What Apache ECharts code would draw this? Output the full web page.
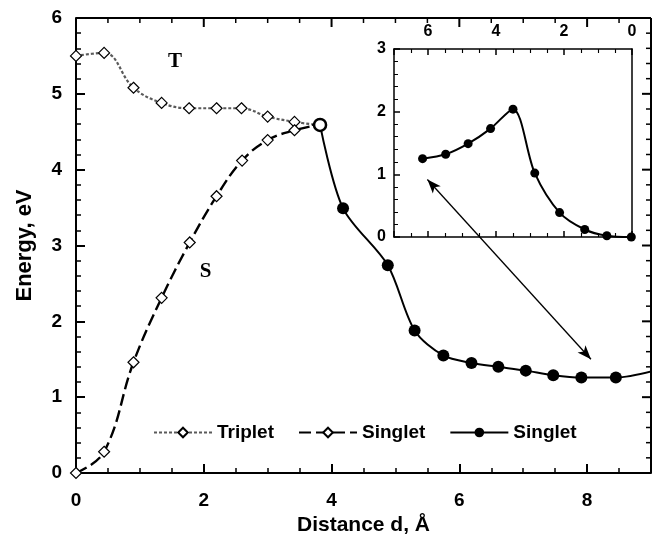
<!DOCTYPE html>
<html>
<head>
<meta charset="utf-8">
<script src="https://cdn.jsdelivr.net/npm/echarts@6/dist/echarts.min.js"></script>
<style>
html,body{margin:0;padding:0;background:#fff;}
#chart{width:654px;height:534px;}
</style>
</head>
<body>
<div id="chart"></div>
<script>
// Main plot data (distance d in Å, energy in eV)
const tripletX = [0, 0.44, 0.90, 1.34, 1.77, 2.20, 2.59, 3.00, 3.42, 3.79];
const tripletY = [5.50, 5.54, 5.08, 4.88, 4.81, 4.81, 4.81, 4.70, 4.63, 4.59];

const singletDashX = [0, 0.44, 0.90, 1.34, 1.78, 2.20, 2.60, 3.00, 3.42, 3.79];
const singletDashY = [0, 0.28, 1.46, 2.31, 3.04, 3.65, 4.12, 4.39, 4.52, 4.59];

const singletSolidX = [3.82, 4.18, 4.88, 5.30, 5.75, 6.19, 6.61, 7.04, 7.47, 7.91, 8.45, 9.05];
const singletSolidY = [4.59, 3.49, 2.74, 1.88, 1.55, 1.45, 1.40, 1.35, 1.29, 1.26, 1.26, 1.35];

// Inset data
const insetX = [6.16, 5.48, 4.82, 4.16, 3.50, 2.86, 2.13, 1.39, 0.74, 0.02];
const insetY = [1.25, 1.32, 1.49, 1.73, 2.04, 1.02, 0.39, 0.12, 0.02, 0.0];

// Tick labels
const mainXTicks = [0, 2, 4, 6, 8];
const mainYTicks = [0, 1, 2, 3, 4, 5, 6];
const insetXTicks = [0, 2, 4, 6];
const insetYTicks = [0, 1, 2, 3];

// Annotations
const arrowFrom = [5.50, 3.87];
const arrowTo = [8.06, 1.50];
const labelT = [1.55, 5.42];
const labelS = [2.03, 2.65];

const zip = (xs, ys) => xs.map((x, i) => [x, ys[i]]);

const FONT = '"Liberation Sans", Arial, sans-serif';
const tickFmt = (list) => (v) => list.indexOf(v) >= 0 ? String(v) : '';

function makeAxis(o) {
  const w = o.lw;
  const ax = {
    type: 'value', min: o.min, max: o.max, interval: o.interval,
    position: o.position,
    axisLine: { show: true, onZero: false, lineStyle: { color: '#000', width: w } },
    axisTick: { show: o.ticks !== false, inside: true, length: o.tl, lineStyle: { color: '#000', width: w } },
    minorTick: { show: o.ticks !== false, splitNumber: o.minor, length: o.mtl, lineStyle: { color: '#000', width: w * 0.75 } },
    splitLine: { show: false },
    axisLabel: o.labels
      ? { show: true, margin: o.margin, fontFamily: FONT, fontSize: o.fs, fontWeight: 'bold', color: '#000', formatter: tickFmt(o.labels) }
      : { show: false }
  };
  if (o.grid) ax.gridIndex = o.grid;
  if (o.inverse) ax.inverse = true;
  return ax;
}

const chart = echarts.init(document.getElementById('chart'), null, { renderer: 'canvas' });

const xMainBottom = makeAxis({ grid: 0, min: 0, max: 9, interval: 2, position: 'bottom', lw: 2, tl: 9, mtl: 5, minor: 4, labels: mainXTicks, margin: 18, fs: 19 });
xMainBottom.name = 'Distance d, Å';
xMainBottom.nameLocation = 'middle';
xMainBottom.nameGap = 42;
xMainBottom.nameTextStyle = { fontFamily: FONT, fontSize: 21, fontWeight: 'bold', color: '#000' };

const yMainLeft = makeAxis({ grid: 0, min: 0, max: 6, interval: 1, position: 'left', lw: 2, tl: 9, mtl: 5, minor: 5, labels: mainYTicks, margin: 14, fs: 19 });
yMainLeft.name = 'Energy, eV';
yMainLeft.nameLocation = 'middle';
yMainLeft.nameGap = 40;
yMainLeft.nameTextStyle = { fontFamily: FONT, fontSize: 22, fontWeight: 'bold', color: '#000' };

const option = {
  animation: false,
  backgroundColor: '#fff',
  textStyle: { fontFamily: FONT },
  grid: [
    { left: 76, top: 18, right: 3, bottom: 61, outerBoundsMode: 'none', containLabel: false },
    { left: 394, top: 49, width: 238, height: 188, outerBoundsMode: 'none', containLabel: false }
  ],
  legend: {
    left: 148, top: 418,
    itemWidth: 58, itemHeight: 12, itemGap: 24,
    textStyle: { fontFamily: FONT, fontSize: 19, fontWeight: 'bold', color: '#000' },
    formatter: (name) => name.replace(' (dashed)', ''),
    data: ['Triplet', 'Singlet (dashed)', 'Singlet']
  },
  xAxis: [
    xMainBottom,
    makeAxis({ grid: 1, min: 0, max: 7, interval: 2, inverse: true, position: 'top', lw: 1.5, tl: 6, mtl: 4, minor: 4, labels: insetXTicks, margin: 9, fs: 16 }),
    makeAxis({ grid: 1, min: 0, max: 7, interval: 2, inverse: true, position: 'bottom', lw: 1.5, tl: 6, mtl: 4, minor: 4 })
  ],
  yAxis: [
    yMainLeft,
    makeAxis({ grid: 1, min: 0, max: 3, interval: 1, position: 'left', lw: 1.5, tl: 6, mtl: 4, minor: 5, labels: insetYTicks, margin: 8, fs: 16 }),
    makeAxis({ grid: 1, min: 0, max: 3, interval: 1, position: 'right', lw: 1.5, tl: 6, mtl: 4, minor: 5, ticks: false })
  ],
  series: [
    {
      name: 'Triplet', type: 'line', xAxisIndex: 0, yAxisIndex: 0,
      data: zip(tripletX, tripletY),
      smooth: 0.4,
      symbol: 'diamond', symbolSize: 11, showAllSymbol: true,
      lineStyle: { color: '#5a5a5a', width: 2.2, type: [3, 2] },
      itemStyle: { color: '#fff', borderColor: '#000', borderWidth: 1.2 },
      markPoint: {
        silent: true, symbol: 'circle', symbolSize: 1,
        itemStyle: { color: 'transparent', borderWidth: 0 },
        label: { show: true, position: 'inside', fontFamily: '"Liberation Serif", "Times New Roman", serif', fontSize: 21, fontWeight: 'bold', color: '#000', formatter: (p) => p.name },
        data: [
          { name: 'T', coord: labelT },
          { name: 'S', coord: labelS }
        ]
      },
      z: 3
    },
    {
      name: 'Singlet (dashed)', type: 'line', xAxisIndex: 0, yAxisIndex: 0,
      data: zip(singletDashX, singletDashY),
      smooth: 0.4,
      symbol: 'diamond', symbolSize: 11, showAllSymbol: true,
      lineStyle: { color: '#000', width: 2.4, type: [12, 5] },
      itemStyle: { color: '#fff', borderColor: '#000', borderWidth: 1.2 },
      z: 3
    },
    {
      name: 'Singlet', type: 'line', xAxisIndex: 0, yAxisIndex: 0,
      data: zip(singletSolidX, singletSolidY).map((p, i, arr) => {
        if (i === 0) return { value: p, symbolSize: 12, itemStyle: { color: '#fff', borderColor: '#000', borderWidth: 2.5 } };
        if (i === arr.length - 1) return { value: p, symbol: 'none' };
        return p;
      }),
      smooth: 0.3,
      symbol: 'circle', symbolSize: 12, showAllSymbol: true,
      lineStyle: { color: '#000', width: 2 },
      itemStyle: { color: '#000' },
      markLine: {
        silent: true, symbol: ['arrow', 'arrow'], symbolSize: [8, 14],
        lineStyle: { color: '#000', width: 1.3, type: 'solid' },
        label: { show: false },
        data: [[{ coord: arrowFrom }, { coord: arrowTo }]]
      },
      z: 4
    },
    {
      name: 'Inset', type: 'line', xAxisIndex: 1, yAxisIndex: 1,
      data: zip(insetX, insetY),
      smooth: 0.3,
      symbol: 'circle', symbolSize: 9, showAllSymbol: true,
      lineStyle: { color: '#000', width: 2 },
      itemStyle: { color: '#000' },
      z: 4
    }
  ]
};

chart.setOption(option);

// Mirror frame (top and right edges with inward ticks) placed through the main axes' scale
(function addMirrorFrame() {
  const px = (x, y) => chart.convertToPixel({ xAxisIndex: 0, yAxisIndex: 0 }, [x, y]);
  const tl = px(0, 6), br = px(9, 0);
  if (!tl || !br) return;
  const els = [];
  const line = (x1, y1, x2, y2, w) => els.push({
    type: 'line', z: 50, silent: true,
    shape: { x1: x1, y1: y1, x2: x2, y2: y2 },
    style: { stroke: '#000', lineWidth: w }
  });
  line(tl[0], tl[1], br[0], tl[1], 2);
  line(br[0], tl[1], br[0], br[1], 2);
  for (let i = 1; i < 18; i++) {
    const v = i * 0.5;
    const p = px(v, 6);
    const major = (v % 2 === 0);
    line(p[0], tl[1], p[0], tl[1] + (major ? 9 : 5), major ? 2 : 1.5);
  }
  for (let i = 1; i < 30; i++) {
    const v = i * 0.2;
    const p = px(9, v);
    const major = (i % 5 === 0);
    line(br[0], p[1], br[0] - (major ? 9 : 5), p[1], major ? 2 : 1.5);
  }
  chart.setOption({ graphic: els });
})();
</script>
</body>
</html>
